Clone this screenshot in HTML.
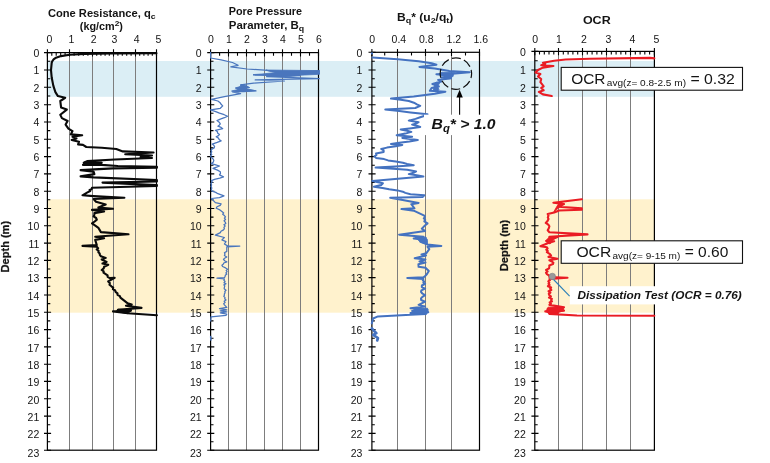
<!DOCTYPE html>
<html><head><meta charset="utf-8"><title>CPTu profiles</title>
<style>html,body{margin:0;padding:0;background:#fff}svg{display:block}text{font-family:"Liberation Sans",Arial,sans-serif;fill:#141414}</style>
</head><body>
<svg width="770" height="463" viewBox="0 0 770 463">
<rect width="770" height="463" fill="#fff"/>
<rect x="47.3" y="61" width="607" height="35.8" fill="#dbeef5"/>
<rect x="47.3" y="199.3" width="607" height="113.4" fill="#fff2cd"/>
<line x1="69.5" y1="52.6" x2="69.5" y2="450.2" stroke="#7d7d7d" stroke-width="1"/>
<line x1="92.5" y1="52.6" x2="92.5" y2="450.2" stroke="#7d7d7d" stroke-width="1"/>
<line x1="113.5" y1="52.6" x2="113.5" y2="450.2" stroke="#7d7d7d" stroke-width="1"/>
<line x1="135.5" y1="52.6" x2="135.5" y2="450.2" stroke="#7d7d7d" stroke-width="1"/>
<rect x="47.4" y="52.6" width="109.1" height="397.6" fill="none" stroke="#000" stroke-width="1.2"/>
<path d="M44.0 52.6H51.1M47.4 61.3H50.3M44.0 70.0H51.1M47.4 78.7H50.3M44.0 87.3H51.1M47.4 96.0H50.3M44.0 104.7H51.1M47.4 113.3H50.3M44.0 122.0H51.1M47.4 130.6H50.3M44.0 139.2H51.1M47.4 147.9H50.3M44.0 156.6H51.1M47.4 165.2H50.3M44.0 173.9H51.1M47.4 182.5H50.3M44.0 191.2H51.1M47.4 199.8H50.3M44.0 208.5H51.1M47.4 217.1H50.3M44.0 225.8H51.1M47.4 234.4H50.3M44.0 243.1H51.1M47.4 251.7H50.3M44.0 260.4H51.1M47.4 269.0H50.3M44.0 277.6H51.1M47.4 286.3H50.3M44.0 295.0H51.1M47.4 303.6H50.3M44.0 312.2H51.1M47.4 320.9H50.3M44.0 329.6H51.1M47.4 338.2H50.3M44.0 346.9H51.1M47.4 355.5H50.3M44.0 364.2H51.1M47.4 372.8H50.3M44.0 381.4H51.1M47.4 390.1H50.3M44.0 398.8H51.1M47.4 407.4H50.3M44.0 416.1H51.1M47.4 424.7H50.3M44.0 433.4H51.1M47.4 441.8H50.3M44.0 450.2H51.1M47.4 49.2V56.4M51.8 52.6V55.8M56.2 52.6V55.8M60.7 52.6V55.8M65.1 52.6V55.8M69.5 49.2V56.4M74.1 52.6V55.8M78.7 52.6V55.8M83.3 52.6V55.8M87.9 52.6V55.8M92.5 49.2V56.4M96.7 52.6V55.8M100.9 52.6V55.8M105.1 52.6V55.8M109.3 52.6V55.8M113.5 49.2V56.4M117.9 52.6V55.8M122.3 52.6V55.8M126.7 52.6V55.8M131.1 52.6V55.8M135.5 49.2V56.4M139.7 52.6V55.8M143.9 52.6V55.8M148.1 52.6V55.8M152.3 52.6V55.8M156.5 49.2V56.4" stroke="#000" stroke-width="1.1" fill="none"/>
<g font-size="10.5" text-anchor="end">
<text x="39.3" y="56.9">0</text>
<text x="39.3" y="74.4">1</text>
<text x="39.3" y="91.7">2</text>
<text x="39.3" y="109.0">3</text>
<text x="39.3" y="126.3">4</text>
<text x="39.3" y="143.7">5</text>
<text x="39.3" y="161.0">6</text>
<text x="39.3" y="178.3">7</text>
<text x="39.3" y="195.7">8</text>
<text x="39.3" y="213.0">9</text>
<text x="39.3" y="230.3">10</text>
<text x="39.3" y="247.6">11</text>
<text x="39.3" y="265.0">12</text>
<text x="39.3" y="282.3">13</text>
<text x="39.3" y="299.6">14</text>
<text x="39.3" y="316.9">15</text>
<text x="39.3" y="334.2">16</text>
<text x="39.3" y="351.6">17</text>
<text x="39.3" y="368.9">18</text>
<text x="39.3" y="386.2">19</text>
<text x="39.3" y="403.6">20</text>
<text x="39.3" y="420.9">21</text>
<text x="39.3" y="438.2">22</text>
<text x="39.3" y="456.5">23</text>
</g>
<g font-size="10.5" text-anchor="middle">
<text x="49.4" y="42.6">0</text>
<text x="71.3" y="42.6">1</text>
<text x="93.7" y="42.6">2</text>
<text x="114.5" y="42.6">3</text>
<text x="136.7" y="42.6">4</text>
<text x="158.3" y="42.6">5</text>
</g>
<line x1="228.5" y1="52.6" x2="228.5" y2="450.2" stroke="#7d7d7d" stroke-width="1"/>
<line x1="246.5" y1="52.6" x2="246.5" y2="450.2" stroke="#7d7d7d" stroke-width="1"/>
<line x1="264.5" y1="52.6" x2="264.5" y2="450.2" stroke="#7d7d7d" stroke-width="1"/>
<line x1="282.5" y1="52.6" x2="282.5" y2="450.2" stroke="#7d7d7d" stroke-width="1"/>
<line x1="300.5" y1="52.6" x2="300.5" y2="450.2" stroke="#7d7d7d" stroke-width="1"/>
<rect x="210.6" y="52.6" width="107.9" height="397.6" fill="none" stroke="#000" stroke-width="1.2"/>
<path d="M207.2 52.6H214.3M210.6 61.3H213.5M207.2 70.0H214.3M210.6 78.7H213.5M207.2 87.3H214.3M210.6 96.0H213.5M207.2 104.7H214.3M210.6 113.3H213.5M207.2 122.0H214.3M210.6 130.6H213.5M207.2 139.2H214.3M210.6 147.9H213.5M207.2 156.6H214.3M210.6 165.2H213.5M207.2 173.9H214.3M210.6 182.5H213.5M207.2 191.2H214.3M210.6 199.8H213.5M207.2 208.5H214.3M210.6 217.1H213.5M207.2 225.8H214.3M210.6 234.4H213.5M207.2 243.1H214.3M210.6 251.7H213.5M207.2 260.4H214.3M210.6 269.0H213.5M207.2 277.6H214.3M210.6 286.3H213.5M207.2 295.0H214.3M210.6 303.6H213.5M207.2 312.2H214.3M210.6 320.9H213.5M207.2 329.6H214.3M210.6 338.2H213.5M207.2 346.9H214.3M210.6 355.5H213.5M207.2 364.2H214.3M210.6 372.8H213.5M207.2 381.4H214.3M210.6 390.1H213.5M207.2 398.8H214.3M210.6 407.4H213.5M207.2 416.1H214.3M210.6 424.7H213.5M207.2 433.4H214.3M210.6 441.8H213.5M207.2 450.2H214.3M210.6 49.2V56.4M219.6 52.6V55.8M228.5 49.2V56.4M237.5 52.6V55.8M246.5 49.2V56.4M255.5 52.6V55.8M264.5 49.2V56.4M273.5 52.6V55.8M282.5 49.2V56.4M291.5 52.6V55.8M300.5 49.2V56.4M309.5 52.6V55.8M318.5 49.2V56.4" stroke="#000" stroke-width="1.1" fill="none"/>
<g font-size="10.5" text-anchor="end">
<text x="201.7" y="56.9">0</text>
<text x="201.7" y="74.4">1</text>
<text x="201.7" y="91.7">2</text>
<text x="201.7" y="109.0">3</text>
<text x="201.7" y="126.3">4</text>
<text x="201.7" y="143.7">5</text>
<text x="201.7" y="161.0">6</text>
<text x="201.7" y="178.3">7</text>
<text x="201.7" y="195.7">8</text>
<text x="201.7" y="213.0">9</text>
<text x="201.7" y="230.3">10</text>
<text x="201.7" y="247.6">11</text>
<text x="201.7" y="265.0">12</text>
<text x="201.7" y="282.3">13</text>
<text x="201.7" y="299.6">14</text>
<text x="201.7" y="316.9">15</text>
<text x="201.7" y="334.2">16</text>
<text x="201.7" y="351.6">17</text>
<text x="201.7" y="368.9">18</text>
<text x="201.7" y="386.2">19</text>
<text x="201.7" y="403.6">20</text>
<text x="201.7" y="420.9">21</text>
<text x="201.7" y="438.2">22</text>
<text x="201.7" y="456.5">23</text>
</g>
<g font-size="10.5" text-anchor="middle">
<text x="211.0" y="42.6">0</text>
<text x="228.9" y="42.6">1</text>
<text x="246.9" y="42.6">2</text>
<text x="264.9" y="42.6">3</text>
<text x="282.9" y="42.6">4</text>
<text x="300.9" y="42.6">5</text>
<text x="318.9" y="42.6">6</text>
</g>
<line x1="397.5" y1="52.3" x2="397.5" y2="450.2" stroke="#7d7d7d" stroke-width="1"/>
<line x1="425.5" y1="52.3" x2="425.5" y2="450.2" stroke="#7d7d7d" stroke-width="1"/>
<line x1="451.5" y1="52.3" x2="451.5" y2="450.2" stroke="#7d7d7d" stroke-width="1"/>
<rect x="371.9" y="52.3" width="107.6" height="397.9" fill="none" stroke="#000" stroke-width="1.2"/>
<path d="M368.5 52.3H375.6M371.9 61.2H374.8M368.5 70.0H375.6M371.9 78.7H374.8M368.5 87.3H375.6M371.9 96.0H374.8M368.5 104.7H375.6M371.9 113.3H374.8M368.5 122.0H375.6M371.9 130.6H374.8M368.5 139.2H375.6M371.9 147.9H374.8M368.5 156.6H375.6M371.9 165.2H374.8M368.5 173.9H375.6M371.9 182.5H374.8M368.5 191.2H375.6M371.9 199.8H374.8M368.5 208.5H375.6M371.9 217.1H374.8M368.5 225.8H375.6M371.9 234.4H374.8M368.5 243.1H375.6M371.9 251.7H374.8M368.5 260.4H375.6M371.9 269.0H374.8M368.5 277.6H375.6M371.9 286.3H374.8M368.5 295.0H375.6M371.9 303.6H374.8M368.5 312.2H375.6M371.9 320.9H374.8M368.5 329.6H375.6M371.9 338.2H374.8M368.5 346.9H375.6M371.9 355.5H374.8M368.5 364.2H375.6M371.9 372.8H374.8M368.5 381.4H375.6M371.9 390.1H374.8M368.5 398.8H375.6M371.9 407.4H374.8M368.5 416.1H375.6M371.9 424.7H374.8M368.5 433.4H375.6M371.9 441.8H374.8M368.5 450.2H375.6M371.9 48.9V56.1M384.7 52.3V55.5M397.5 48.9V56.1M411.5 52.3V55.5M425.5 48.9V56.1M438.5 52.3V55.5M451.5 48.9V56.1M465.5 52.3V55.5M479.5 48.9V56.1" stroke="#000" stroke-width="1.1" fill="none"/>
<g font-size="10.5" text-anchor="end">
<text x="362.4" y="56.6">0</text>
<text x="362.4" y="74.4">1</text>
<text x="362.4" y="91.7">2</text>
<text x="362.4" y="109.0">3</text>
<text x="362.4" y="126.3">4</text>
<text x="362.4" y="143.7">5</text>
<text x="362.4" y="161.0">6</text>
<text x="362.4" y="178.3">7</text>
<text x="362.4" y="195.7">8</text>
<text x="362.4" y="213.0">9</text>
<text x="362.4" y="230.3">10</text>
<text x="362.4" y="247.6">11</text>
<text x="362.4" y="265.0">12</text>
<text x="362.4" y="282.3">13</text>
<text x="362.4" y="299.6">14</text>
<text x="362.4" y="316.9">15</text>
<text x="362.4" y="334.2">16</text>
<text x="362.4" y="351.6">17</text>
<text x="362.4" y="368.9">18</text>
<text x="362.4" y="386.2">19</text>
<text x="362.4" y="403.6">20</text>
<text x="362.4" y="420.9">21</text>
<text x="362.4" y="438.2">22</text>
<text x="362.4" y="456.5">23</text>
</g>
<g font-size="10.5" text-anchor="middle">
<text x="372.2" y="42.6">0</text>
<text x="398.9" y="42.6">0.4</text>
<text x="426.2" y="42.6">0.8</text>
<text x="453.9" y="42.6">1.2</text>
<text x="480.7" y="42.6">1.6</text>
</g>
<line x1="558.5" y1="51.4" x2="558.5" y2="450.2" stroke="#7d7d7d" stroke-width="1"/>
<line x1="582.5" y1="51.4" x2="582.5" y2="450.2" stroke="#7d7d7d" stroke-width="1"/>
<line x1="606.5" y1="51.4" x2="606.5" y2="450.2" stroke="#7d7d7d" stroke-width="1"/>
<line x1="630.5" y1="51.4" x2="630.5" y2="450.2" stroke="#7d7d7d" stroke-width="1"/>
<rect x="534.8" y="51.4" width="119.6" height="398.8" fill="none" stroke="#000" stroke-width="1.2"/>
<path d="M531.4 51.4H538.5M534.8 60.7H537.7M531.4 70.0H538.5M534.8 78.7H537.7M531.4 87.3H538.5M534.8 96.0H537.7M531.4 104.7H538.5M534.8 113.3H537.7M531.4 122.0H538.5M534.8 130.6H537.7M531.4 139.2H538.5M534.8 147.9H537.7M531.4 156.6H538.5M534.8 165.2H537.7M531.4 173.9H538.5M534.8 182.5H537.7M531.4 191.2H538.5M534.8 199.8H537.7M531.4 208.5H538.5M534.8 217.1H537.7M531.4 225.8H538.5M534.8 234.4H537.7M531.4 243.1H538.5M534.8 251.7H537.7M531.4 260.4H538.5M534.8 269.0H537.7M531.4 277.6H538.5M534.8 286.3H537.7M531.4 295.0H538.5M534.8 303.6H537.7M531.4 312.2H538.5M534.8 320.9H537.7M531.4 329.6H538.5M534.8 338.2H537.7M531.4 346.9H538.5M534.8 355.5H537.7M531.4 364.2H538.5M534.8 372.8H537.7M531.4 381.4H538.5M534.8 390.1H537.7M531.4 398.8H538.5M534.8 407.4H537.7M531.4 416.1H538.5M534.8 424.7H537.7M531.4 433.4H538.5M534.8 441.8H537.7M531.4 450.2H538.5M534.8 48.0V55.2M539.5 51.4V54.6M544.3 51.4V54.6M549.0 51.4V54.6M553.8 51.4V54.6M558.5 48.0V55.2M563.3 51.4V54.6M568.1 51.4V54.6M572.9 51.4V54.6M577.7 51.4V54.6M582.5 48.0V55.2M587.3 51.4V54.6M592.1 51.4V54.6M596.9 51.4V54.6M601.7 51.4V54.6M606.5 48.0V55.2M611.3 51.4V54.6M616.1 51.4V54.6M620.9 51.4V54.6M625.7 51.4V54.6M630.5 48.0V55.2M635.3 51.4V54.6M640.1 51.4V54.6M644.8 51.4V54.6M649.6 51.4V54.6M654.4 48.0V55.2" stroke="#000" stroke-width="1.1" fill="none"/>
<g font-size="10.5" text-anchor="end">
<text x="525.8" y="55.7">0</text>
<text x="525.8" y="74.4">1</text>
<text x="525.8" y="91.7">2</text>
<text x="525.8" y="109.0">3</text>
<text x="525.8" y="126.3">4</text>
<text x="525.8" y="143.7">5</text>
<text x="525.8" y="161.0">6</text>
<text x="525.8" y="178.3">7</text>
<text x="525.8" y="195.7">8</text>
<text x="525.8" y="213.0">9</text>
<text x="525.8" y="230.3">10</text>
<text x="525.8" y="247.6">11</text>
<text x="525.8" y="265.0">12</text>
<text x="525.8" y="282.3">13</text>
<text x="525.8" y="299.6">14</text>
<text x="525.8" y="316.9">15</text>
<text x="525.8" y="334.2">16</text>
<text x="525.8" y="351.6">17</text>
<text x="525.8" y="368.9">18</text>
<text x="525.8" y="386.2">19</text>
<text x="525.8" y="403.6">20</text>
<text x="525.8" y="420.9">21</text>
<text x="525.8" y="438.2">22</text>
<text x="525.8" y="456.5">23</text>
</g>
<g font-size="10.5" text-anchor="middle">
<text x="535.2" y="42.6">0</text>
<text x="559.0" y="42.6">1</text>
<text x="583.8" y="42.6">2</text>
<text x="608.3" y="42.6">3</text>
<text x="632.4" y="42.6">4</text>
<text x="656.3" y="42.6">5</text>
</g>
<polyline points="156.4,53.3 110.0,53.4 84.5,53.9 69.6,54.7 61.0,56.1 56.0,57.7 53.6,59.4 52.2,61.3 51.7,62.9 51.0,70.2 51.7,77.5 53.3,85.6 55.4,92.1 57.9,96.1 65.2,97.8 60.3,101.0 61.1,107.5 66.8,109.6 60.3,114.8 61.9,118.1 67.6,121.0 65.6,124.6 68.4,128.7 72.5,131.1 70.8,134.4 82.2,135.2 72.5,136.8 76.5,138.4 71.7,140.0 79.0,141.7 78.1,144.4 83.0,144.9 86.3,147.0 101.7,147.7 116.3,149.0 122.8,151.4 153.6,152.5 125.2,154.2 152.0,155.5 140.6,157.1 152.0,158.0 114.7,159.5 87.1,161.1 83.8,162.8 101.7,162.8 83.0,164.9 101.7,164.9 117.9,166.0 156.9,166.8 156.9,167.8 113.0,168.4 80.6,170.1 93.6,171.7 94.4,174.1 80.6,176.4 93.6,177.4 156.9,180.0 156.9,181.5 102.5,182.6 156.9,185.1 156.9,186.0 92.0,187.7 91.6,189.2 89.6,190.0 90.2,191.0 87.0,192.6 82.5,195.3 93.6,196.1 124.4,197.7 93.6,199.0 96.0,201.8 105.7,204.5 98.4,207.5 113.0,208.8 92.0,209.9 104.1,211.5 94.4,213.1 94.4,214.8 93.6,216.4 96.1,218.0 96.8,219.6 94.7,221.5 92.0,223.4 96.0,226.1 98.4,227.8 99.3,229.4 100.9,232.1 128.5,234.3 95.2,236.7 104.1,238.3 95.2,239.9 96.8,245.1 82.5,245.9 96.8,246.8 98.1,248.2 96.7,249.5 98.6,250.8 98.4,252.2 99.7,253.5 99.8,254.9 100.9,256.2 105.7,257.9 101.7,259.5 106.6,261.9 102.5,263.5 108.2,264.7 104.1,266.8 103.7,268.4 101.7,270.0 103.7,271.4 103.5,272.7 105.7,274.1 107.6,275.4 107.6,276.8 109.8,278.1 114.7,277.8 108.2,281.4 109.8,283.0 109.5,284.7 111.4,286.3 113.2,287.7 112.9,289.1 115.2,290.5 115.5,291.9 117.5,293.3 117.5,294.8 119.9,296.2 120.4,297.6 127.7,303.3 131.7,304.4 126.0,305.7 141.5,307.9 117.9,309.8 130.9,310.6 113.0,311.4 127.7,313.3 156.9,315.2" fill="none" stroke="#0a0a0a" stroke-width="2.1" stroke-linejoin="round" stroke-linecap="round"/>
<polyline points="210.6,52.3 210.6,58.0 221.1,59.9 232.5,62.5 238.1,65.3 230.8,66.9 247.1,69.0 264.9,70.2 276.3,71.8 319.3,71.0 276.3,72.6 319.3,73.4 253.6,75.0 300.0,75.6 266.6,76.7 319.3,78.6 255.2,79.9 284.4,81.0 253.6,83.1 240.6,84.8 248.7,87.5 235.7,88.0 256.0,90.8 232.5,91.8 240.6,93.7 224.4,96.6 211.4,99.4 217.9,101.0 220.1,102.7 221.1,104.3 222.7,105.9 220.3,108.3 210.6,109.9 215.7,111.6 219.5,113.2 224.2,114.7 227.6,116.2 224.4,117.7 220.3,119.1 217.0,120.6 219.2,122.2 220.3,123.8 219.5,125.0 217.9,126.2 221.1,127.4 222.7,128.7 215.4,130.3 217.5,131.7 217.5,133.0 219.5,134.4 218.5,135.6 216.2,136.8 218.5,138.1 219.1,139.5 221.1,140.8 217.2,142.4 212.2,144.1 213.8,145.3 214.6,146.5 214.2,147.9 211.9,149.2 211.0,150.6 211.8,151.9 210.7,153.2 211.7,154.5 210.5,155.8 211.0,157.1 212.9,158.7 213.8,160.3 213.4,161.9 211.4,163.6 215.7,164.8 219.5,166.0 216.6,167.2 213.0,168.4 217.5,170.1 220.3,171.7 220.5,173.3 219.5,174.9 223.5,176.9 219.8,178.1 214.5,179.4 211.4,180.6 212.2,182.1 210.9,183.5 211.6,184.9 211.0,186.4 211.8,188.0 211.3,189.6 212.2,191.2 215.7,192.4 217.9,193.7 224.0,195.8 219.5,197.7 211.4,198.5 215.4,202.6 221.1,203.9 220.2,205.4 217.0,206.8 216.2,208.3 219.9,209.9 221.9,211.5 223.7,212.9 222.7,214.2 224.4,215.6 225.5,216.9 224.4,218.2 225.5,219.5 224.1,220.8 225.2,222.1 225.8,223.4 223.9,224.7 225.1,226.0 223.9,227.3 224.4,228.6 223.5,229.9 221.0,231.3 220.3,232.6 215.4,235.1 224.4,237.5 221.9,239.9 226.0,241.6 224.4,244.0 227.6,245.9 239.8,246.1 226.8,246.8 226.8,251.4 224.4,252.7 225.0,254.1 224.4,255.4 226.8,257.0 224.6,258.2 223.5,259.5 224.6,260.7 226.8,261.9 223.8,263.0 223.4,264.1 221.9,265.2 222.6,266.5 225.6,267.9 227.6,269.2 226.2,270.4 227.1,271.6 225.9,272.9 226.8,274.1 225.3,275.3 225.1,276.5 224.4,277.7 217.0,278.1 224.4,279.0 223.9,280.2 225.1,281.4 224.0,282.6 226.0,283.8 223.9,284.9 224.8,286.0 224.4,287.1 224.2,288.7 226.0,290.3 224.8,291.5 225.1,292.8 224.3,294.0 224.4,295.2 223.8,296.4 225.1,297.6 224.7,298.8 226.0,300.0 224.1,301.2 225.1,302.4 223.7,303.7 224.4,304.9 226.8,307.4 219.5,308.6 226.8,309.8 220.3,310.8 226.8,311.8 220.3,312.9 226.8,314.2 226.0,315.3 211.0,316.9 210.7,321.0" fill="none" stroke="#4a76bd" stroke-width="1.25" stroke-linejoin="round" stroke-linecap="round"/>
<polyline points="210.7,336.5 210.9,340.0" fill="none" stroke="#4a76bd" stroke-width="1.6" stroke-linejoin="round" stroke-linecap="round"/>
<polyline points="372.4,57.5 397.5,59.3 418.6,61.2 431.6,63.2 436.4,64.8 419.4,66.9 434.8,68.5 449.4,71.0 469.7,72.3 455.1,73.4 436.4,74.2 452.7,75.8 441.3,77.5 451.0,78.3 438.1,79.9 441.3,81.5 432.4,84.0 438.9,86.4 431.6,88.0 429.9,90.8 445.4,91.8 434.8,93.7 413.7,96.6 391.0,98.6 400.8,99.8 408.8,101.0 413.9,102.7 416.9,104.3 420.2,105.9 415.3,108.0 385.3,109.4 399.3,110.9 410.5,112.4 427.5,114.3 424.8,115.8 420.2,117.3 415.5,118.9 408.8,120.6 418.6,122.2 416.4,123.4 412.1,124.6 416.8,125.8 420.2,127.0 411.4,128.2 400.7,129.5 407.1,130.7 411.3,131.9 405.3,133.6 396.7,135.2 412.1,136.8 402.3,137.9 417.8,140.0 409.4,141.4 399.2,142.7 391.0,144.1 402.3,144.9 395.8,146.3 386.9,147.6 381.2,149.0 383.6,150.4 383.7,151.9 376.0,153.5 376.5,155.0 374.5,156.4 376.0,157.9 384.1,159.1 388.1,160.4 395.8,161.6 402.9,162.8 407.1,164.0 413.7,165.2 395.1,166.4 375.6,167.6 407.2,169.7 416.1,171.4 413.5,172.8 408.8,174.1 416.6,175.3 423.4,176.6 372.3,181.0 378.2,182.2 382.9,183.3 381.2,185.1 373.9,186.7 382.5,187.9 389.2,189.2 397.5,190.4 402.8,191.7 405.3,192.9 410.5,194.2 424.3,195.3 422.6,196.9 390.2,197.7 404.0,200.2 418.6,202.9 411.3,204.2 414.5,208.3 401.5,209.1 413.7,210.7 424.3,215.6 424.9,217.0 423.8,218.4 425.2,219.9 424.3,221.3 427.5,223.4 424.3,226.1 421.8,228.6 425.1,231.0 399.1,234.7 423.4,236.7 413.7,238.6 426.7,239.9 420.2,241.6 427.5,244.5 441.3,245.9 427.5,246.8 429.3,249.2 426.2,253.3 421.5,254.4 426.0,255.5 414.7,258.3 425.5,259.5 419.5,261.5 425.5,262.5 418.4,264.2 418.6,266.8 425.5,267.8 428.8,271.0 427.0,274.0 425.1,276.2 423.4,277.3 407.3,277.9 423.4,279.0 422.8,280.2 424.1,281.4 423.4,282.6 425.1,283.8 421.9,285.5 421.8,287.1 425.1,288.7 421.4,290.3 421.0,291.9 422.3,293.5 425.1,295.2 422.4,296.8 421.0,298.4 421.1,300.0 425.1,301.7 418.6,304.9 425.1,306.6 410.5,308.2 427.5,309.8 412.1,310.9 428.3,312.2 410.5,313.1 425.9,313.9 410.5,314.8 378.0,316.4 373.1,318.5 371.8,323.4" fill="none" stroke="#4472c0" stroke-width="2.0" stroke-linejoin="round" stroke-linecap="round"/>
<polyline points="371.8,328.3 373.9,330.7 376.4,333.1 373.1,334.8 378.0,338.0 377.2,340.5" fill="none" stroke="#4472c0" stroke-width="2.6" stroke-linejoin="round" stroke-linecap="round"/>
<circle cx="372" cy="53.4" r="1.1" fill="#4472c0"/>
<polyline points="654.3,58.4 650.0,57.9 589.9,58.7 565.6,59.5 554.2,60.8 542.9,62.7 545.3,64.0 541.2,65.2 553.4,66.0 542.9,67.6 538.0,70.0 535.6,72.5 540.4,74.1 538.0,76.5 541.2,79.0 540.4,82.2 543.7,86.3 541.2,87.9 543.7,90.3 538.8,91.9 542.9,94.4 551.8,96.0" fill="none" stroke="#ea1c24" stroke-width="2.1" stroke-linejoin="round" stroke-linecap="round"/>
<polyline points="581.8,199.2 553.4,202.7 564.0,204.0 558.3,206.8 581.8,208.4 581.8,209.7 559.1,210.5 554.2,212.5 547.7,214.1 548.5,215.7 547.8,217.4 548.5,219.0 547.5,221.0 545.8,223.0 548.3,224.7 549.4,226.3 548.8,228.3 547.7,230.3 549.4,232.3 587.5,234.4 549.4,236.8 557.5,237.1 546.1,240.9 554.2,241.3 547.7,243.2 540.4,246.2 546.9,247.3 547.6,248.5 546.3,249.8 547.8,251.0 546.9,252.2 549.6,253.8 551.0,255.4 548.5,257.0 557.5,258.7 549.4,260.3 551.9,261.5 553.4,262.7 552.9,264.1 549.3,265.4 549.4,266.8 549.0,268.4 546.1,270.0 547.6,271.4 546.0,272.7 546.9,274.1 549.2,275.6 549.4,277.0 567.5,277.7 549.4,279.0 549.9,280.2 548.3,281.4 549.3,282.6 548.5,283.8 549.6,285.0 547.9,286.2 551.1,287.5 550.2,288.7 551.3,290.0 548.6,291.3 550.4,292.6 548.8,293.9 549.4,295.2 550.9,296.4 549.0,297.6 551.9,298.9 551.0,300.1 552.0,301.3 549.7,302.5 550.9,303.7 549.4,304.9 564.0,307.4 547.7,309.0 564.0,310.6 545.3,311.4 557.5,312.7 549.4,313.9 577.0,315.5 654.3,315.8" fill="none" stroke="#ea1c24" stroke-width="2.1" stroke-linejoin="round" stroke-linecap="round"/>
<polygon points="84.0,162.0 101.7,162.3 101.7,165.2 84.0,165.2" fill="#0a0a0a" stroke="#0a0a0a" stroke-width="0.8" stroke-linejoin="round"/>
<polygon points="118.0,309.2 131.0,309.8 131.0,311.0 127.7,313.6 116.0,311.6" fill="#0a0a0a" stroke="#0a0a0a" stroke-width="0.8" stroke-linejoin="round"/>
<polygon points="266.0,70.0 319.5,70.6 319.5,74.3 300.0,75.2 290.0,76.3 272.0,76.2 262.0,74.9 253.0,74.6 262.0,74.0 276.0,72.5 270.0,71.3" fill="#4a76bd" stroke="#4a76bd" stroke-width="0.8" stroke-linejoin="round"/>
<polygon points="241.0,84.5 246.0,85.5 249.7,87.6 245.0,88.5 255.5,90.7 244.0,91.8 231.5,91.1 238.0,89.5 235.5,88.0 240.0,86.5" fill="#4a76bd" stroke="#4a76bd" stroke-width="0.8" stroke-linejoin="round"/>
<polygon points="442.0,72.2 455.0,72.6 452.5,76.0 451.0,78.6 444.0,78.8 446.0,76.5 438.0,74.4" fill="#4472c0" stroke="#4472c0" stroke-width="0.8" stroke-linejoin="round"/>
<polygon points="436.0,82.2 439.6,83.0 437.6,86.5 439.0,89.5 437.5,91.3 433.4,90.8 433.6,88.0 434.8,85.0" fill="#4472c0" stroke="#4472c0" stroke-width="0.8" stroke-linejoin="round"/>
<polygon points="415.0,237.4 426.0,237.0 427.5,241.0 427.5,244.5 421.0,242.5" fill="#4472c0" stroke="#4472c0" stroke-width="0.8" stroke-linejoin="round"/>
<polygon points="413.0,308.6 427.5,308.2 428.3,312.4 425.5,314.4 411.0,314.4 416.0,311.3" fill="#4472c0" stroke="#4472c0" stroke-width="0.8" stroke-linejoin="round"/>
<polygon points="549.5,236.6 557.5,237.0 553.0,240.0 550.0,244.0 546.3,242.0 547.0,239.5" fill="#ea1c24" stroke="#ea1c24" stroke-width="0.8" stroke-linejoin="round"/>
<polygon points="548.0,307.2 563.5,307.2 563.5,310.9 557.0,312.9 549.4,314.2 546.0,311.4" fill="#ea1c24" stroke="#ea1c24" stroke-width="0.8" stroke-linejoin="round"/>
<polygon points="559.0,203.0 564.0,203.8 560.0,206.8 556.0,210.0 553.5,212.3 556.5,207.0" fill="#ea1c24" stroke="#ea1c24" stroke-width="0.8" stroke-linejoin="round"/>
<g font-weight="bold" font-size="10.4">
<text x="47.9" y="16.7" textLength="107.6" lengthAdjust="spacingAndGlyphs">Cone Resistance, q<tspan font-size="8" dy="2">c</tspan></text>
<text x="79.8" y="30" textLength="43.2" lengthAdjust="spacingAndGlyphs">(kg/cm<tspan font-size="8" dy="-3.6">2</tspan><tspan dy="3.6">)</tspan></text>
<text x="228.8" y="15.4" textLength="73.2" lengthAdjust="spacingAndGlyphs">Pore Pressure</text>
<text x="228.8" y="28.6" textLength="75.4" lengthAdjust="spacingAndGlyphs">Parameter, B<tspan font-size="8" dy="2.2">q</tspan></text>
<text x="397" y="21.1" font-size="10.8" textLength="56.4" lengthAdjust="spacingAndGlyphs">B<tspan font-size="8" dy="2.2">q</tspan><tspan dy="-2.2">* (u</tspan><tspan font-size="8" dy="2.2">2</tspan><tspan dy="-2.2">/q</tspan><tspan font-size="8" dy="2.2">t</tspan><tspan dy="-2.2">)</tspan></text>
<text x="582.9" y="23.6" font-size="10.8" textLength="27.8" lengthAdjust="spacingAndGlyphs">OCR</text>
</g>
<text transform="translate(9.4,272.4) rotate(-90)" font-weight="bold" font-size="10.4" stroke="#141414" stroke-width="0.25" textLength="51.5" lengthAdjust="spacingAndGlyphs">Depth (m)</text>
<text transform="translate(508,271.2) rotate(-90)" font-weight="bold" font-size="10.4" stroke="#141414" stroke-width="0.25" textLength="51.5" lengthAdjust="spacingAndGlyphs">Depth (m)</text>
<rect x="424" y="114.7" width="75" height="20.4" fill="#fff"/>
<circle cx="455.9" cy="73.6" r="15.7" fill="none" stroke="#111" stroke-width="1.2" stroke-dasharray="9 3.33" stroke-dashoffset="4.5"/>
<line x1="459.6" y1="96" x2="459.6" y2="114.7" stroke="#000" stroke-width="1.1"/>
<path d="M459.6 89.8L462.8 97.6H456.4Z" fill="#000"/>
<text x="431.6" y="129.3" font-weight="bold" font-style="italic" font-size="14.6" textLength="64" lengthAdjust="spacingAndGlyphs">B<tspan font-size="10.5" dy="2.4">q</tspan><tspan dy="-2.4">* &gt; 1.0</tspan></text>
<rect x="561.2" y="67.4" width="181.3" height="22.8" fill="#fff" stroke="#111" stroke-width="1.1"/>
<g font-size="15.4">
<text x="571.2" y="83.7" textLength="34.2" lengthAdjust="spacingAndGlyphs">OCR</text>
<text x="606.8" y="85.7" font-size="9.7" textLength="79.2" lengthAdjust="spacingAndGlyphs">avg(z= 0.8-2.5 m)</text>
<text x="690.4" y="83.7" textLength="44.4" lengthAdjust="spacingAndGlyphs">= 0.32</text>
</g>
<rect x="561.2" y="240.8" width="181.3" height="22.5" fill="#fff" stroke="#111" stroke-width="1.1"/>
<g font-size="15.4">
<text x="576.4" y="256.8" textLength="34.8" lengthAdjust="spacingAndGlyphs">OCR</text>
<text x="612.5" y="258.8" font-size="9.7" textLength="67.8" lengthAdjust="spacingAndGlyphs">avg(z= 9-15 m)</text>
<text x="684.7" y="256.8" textLength="43.6" lengthAdjust="spacingAndGlyphs">= 0.60</text>
</g>
<rect x="569.8" y="286.2" width="175" height="18.2" fill="#fff"/>
<line x1="552.6" y1="278.5" x2="569.6" y2="296.2" stroke="#2a7fb8" stroke-width="1.1"/>
<circle cx="552.3" cy="276.4" r="3.2" fill="#9a9a9a" stroke="#7f7f7f" stroke-width="0.6"/>
<text x="577.4" y="299" font-weight="bold" font-style="italic" font-size="10.8" textLength="164.4" lengthAdjust="spacingAndGlyphs">Dissipation Test (OCR = 0.76)</text>
</svg>
</body></html>
